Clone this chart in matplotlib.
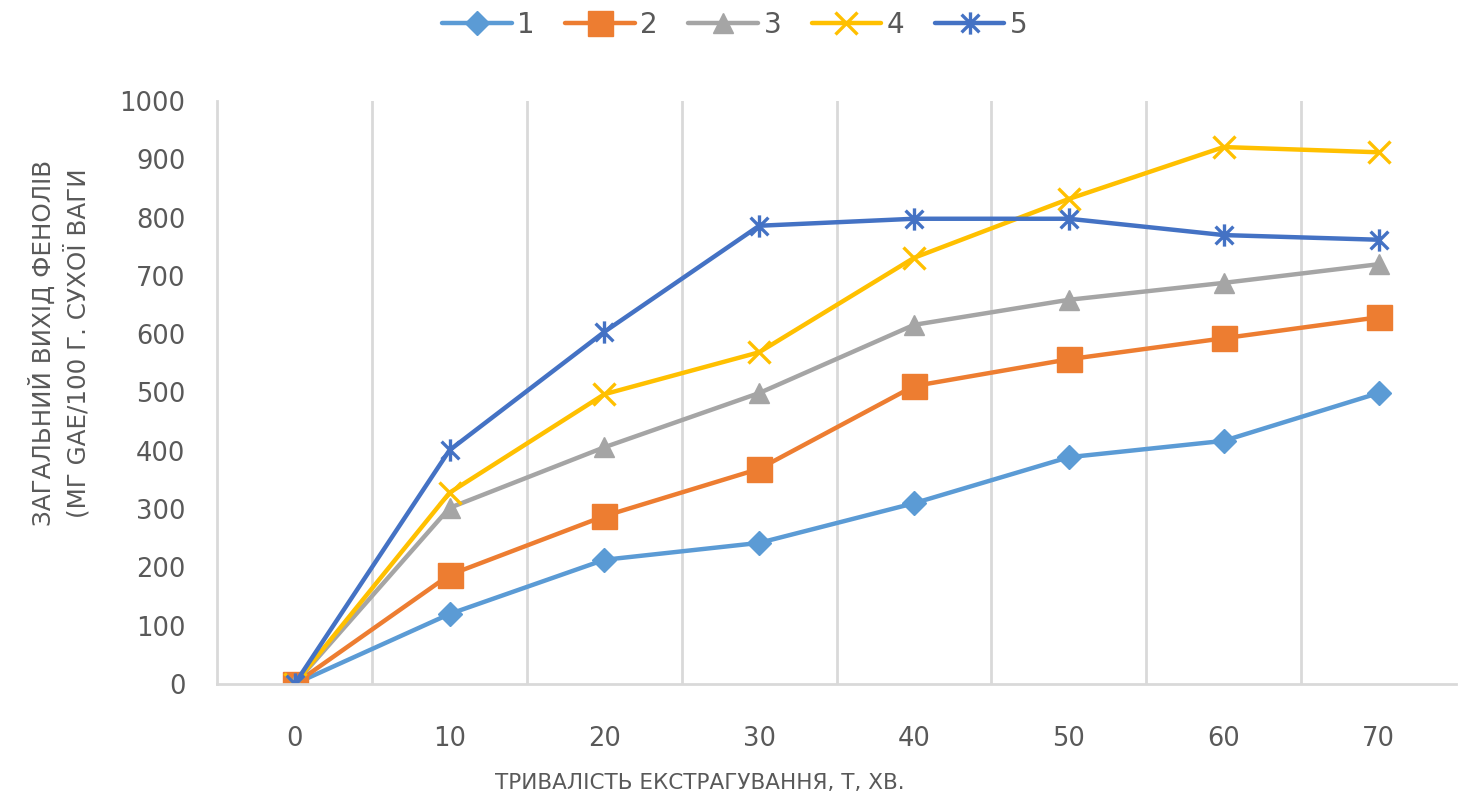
import matplotlib.pyplot as plt
import numpy as np
from matplotlib.path import Path
from matplotlib import font_manager

# --- data ---
times = [0, 10, 20, 30, 40, 50, 60, 70]
series_1 = [0, 120, 213, 242, 310, 389, 417, 499]
series_2 = [0, 187, 288, 369, 511, 557, 593, 629]
series_3 = [0, 302, 406, 499, 616, 659, 688, 720]
series_4 = [0, 328, 497, 569, 731, 832, 921, 912]
series_5 = [0, 401, 604, 786, 798, 798, 770, 762]
labels = ["1", "2", "3", "4", "5"]

colors = ["#5B9BD5", "#ED7D31", "#A5A5A5", "#FFC000", "#4472C4"]

# excel-like "star" marker: vertical bar plus an X
star = Path([(0, -1), (0, 1), (-0.8, -0.8), (0.8, 0.8), (-0.8, 0.8), (0.8, -0.8)],
            [Path.MOVETO, Path.LINETO, Path.MOVETO, Path.LINETO, Path.MOVETO, Path.LINETO])

available = {f.name for f in font_manager.fontManager.ttflist}
family = [f for f in ["Liberation Sans Narrow", "DejaVu Sans Condensed", "DejaVu Sans"] if f in available]
plt.rcParams['font.family'] = family
text_color = "#595959"

fig = plt.figure(figsize=(14.58, 8.06), dpi=100)
ax = fig.add_axes([0.149, 0.1514, 0.8496, 0.7233])

x = np.arange(len(times))
styles = [
    dict(marker='D', markersize=12),
    dict(marker='s', markersize=18),
    dict(marker='^', markersize=15),
    dict(marker='x', markersize=16, markeredgewidth=2.4),
    dict(marker=star, markersize=16, markeredgewidth=2.4),
]
all_series = [series_1, series_2, series_3, series_4, series_5]
for vals, lab, col, st in zip(all_series, labels, colors, styles):
    ax.plot(x, vals, color=col, linewidth=3.2, label=lab,
            markerfacecolor=col, markeredgecolor=col, solid_capstyle='round', **st)

ax.set_xlim(-0.5, len(times) - 0.5)
ax.set_ylim(0, 1000)
ax.set_yticks(np.arange(0, 1001, 100))
ax.set_xticks(x)
ax.set_xticklabels([str(t) for t in times])

# vertical gridlines between categories
for b in np.arange(0.5, len(times) - 0.5, 1):
    ax.axvline(b, color="#D9D9D9", linewidth=2, zorder=0)

for s in ['top', 'right']:
    ax.spines[s].set_visible(False)
ax.spines['left'].set_color("#D9D9D9")
ax.spines['left'].set_linewidth(2)
ax.spines['bottom'].set_color("#D9D9D9")
ax.spines['bottom'].set_linewidth(2)
ax.tick_params(length=0, labelsize=18.5, colors=text_color)
ax.tick_params(axis='x', pad=30)
ax.tick_params(axis='y', pad=23)

fig.text(0.041, 0.574, "ЗАГАЛЬНИЙ ВИХІД ФЕНОЛІВ\n(МГ GAE/100 Г. СУХОЇ ВАГИ",
         rotation=90, ha='center', va='center', fontsize=17.7, color=text_color,
         multialignment='center', linespacing=1.35)
fig.text(0.480, 0.0285, "ТРИВАЛІСТЬ ЕКСТРАГУВАННЯ, Т, ХВ.", ha='center', va='center',
         fontsize=15.5, color=text_color)

leg = fig.legend(loc='center', bbox_to_anchor=(0.504, 0.969), ncol=5, frameon=False,
                 fontsize=20, handlelength=2.5, columnspacing=1.1, handletextpad=0.2)
for t in leg.get_texts():
    t.set_color(text_color)

plt.savefig("out.png")
plt.close()
